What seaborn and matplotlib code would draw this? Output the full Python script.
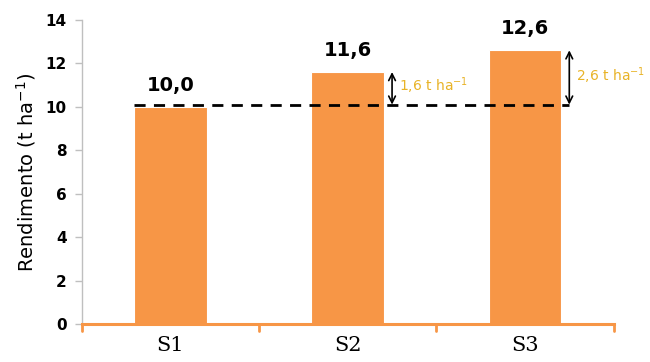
import matplotlib
matplotlib.use("Agg")
import matplotlib.pyplot as plt
import seaborn as sns
import pandas as pd

categories = ["S1", "S2", "S3"]
values = [10.0, 11.6, 12.6]
value_labels = ["10,0", "11,6", "12,6"]
diff_labels = ["", "1,6 t ha$^{-1}$", "2,6 t ha$^{-1}$"]
y_ticks = [0, 2, 4, 6, 8, 10, 12, 14]
baseline = 10.1

sns.set_theme(style="white")
plt.rcParams['font.family'] = ['DejaVu Sans']
plt.rcParams['text.color'] = 'black'
plt.rcParams['axes.labelcolor'] = 'black'
plt.rcParams['xtick.labelcolor'] = 'black'
plt.rcParams['ytick.labelcolor'] = 'black'

orange = "#F79646"
gold = "#E8B327"

df = pd.DataFrame({"cat": categories, "val": values})

fig = plt.figure(figsize=(6.5, 3.62), dpi=100)
ax = fig.add_axes([0.126, 0.105, 0.818, 0.84])
sns.barplot(data=df, x="cat", y="val", color=orange, width=0.41, ax=ax,
            saturation=1, edgecolor="white", linewidth=0.8)

ax.set_ylim(0, 14)
ax.set_xlim(-0.5, 2.5)
ax.set_yticks(y_ticks)
ax.set_yticklabels([str(t) for t in y_ticks], fontweight="bold", fontsize=11)
ax.set_xticks([0, 1, 2])
ax.set_xticklabels(categories, fontsize=15, family="DejaVu Serif")
ax.set_xlabel("")
ax.set_ylabel("Rendimento (t ha$^{-1}$)", fontsize=14, labelpad=5)

for s in ["top", "right"]:
    ax.spines[s].set_visible(False)
ax.spines["left"].set_color("#BFBFBF")
ax.spines["left"].set_linewidth(1)
ax.spines["bottom"].set_color(orange)
ax.spines["bottom"].set_linewidth(2.2)

ax.tick_params(axis="y", which="both", left=True, length=5, color="#BFBFBF", width=1, pad=6)
ax.tick_params(axis="x", bottom=False, pad=3)
# tick marks on x axis at category boundaries
for b in [-0.5, 0.5, 1.5, 2.5]:
    ax.plot([b, b], [0, -0.3], color=orange, lw=2, clip_on=False)

# value labels
for i, (v, lab) in enumerate(zip(values, value_labels)):
    ax.text(i, v + 0.55, lab, ha="center", va="bottom", fontsize=14, fontweight="bold")

# dashed baseline
ax.plot([-0.205, 2.25], [baseline, baseline], color="black", lw=2, ls=(0, (4, 3)))

# arrows & diffs
for i, (v, lab) in enumerate(zip(values, diff_labels)):
    if i == 0:
        continue
    xa = i + 0.25
    ax.annotate("", xy=(xa, v), xytext=(xa, baseline),
                arrowprops=dict(arrowstyle="<->", color="black", lw=1.2, shrinkA=0, shrinkB=0))
    ax.text(xa + 0.04, (v + baseline) / 2 + 0.1, lab, ha="left", va="center",
            fontsize=10, color=gold)

fig.savefig("out.png", dpi=100)
